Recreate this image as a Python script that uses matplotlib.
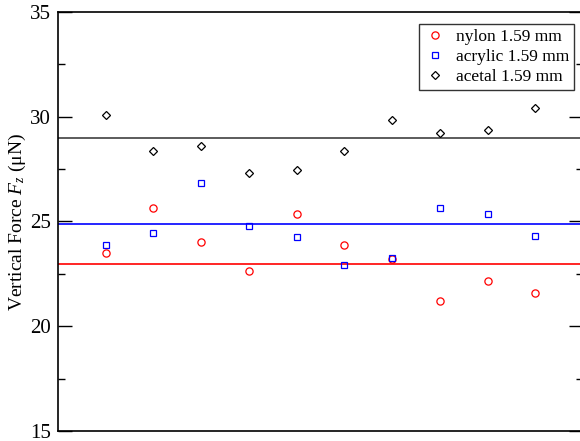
import matplotlib
matplotlib.use("Agg")
import matplotlib.pyplot as plt
import numpy as np

plt.rcParams['font.family'] = ['Liberation Serif', 'DejaVu Serif']
plt.rcParams['mathtext.fontset'] = 'custom'
plt.rcParams['mathtext.rm'] = 'Liberation Serif'
plt.rcParams['mathtext.it'] = 'Liberation Serif:italic'

# Trial index and measured vertical forces (µN)
trials = np.arange(1, 11)
nylon = [23.51, 25.64, 24.04, 22.64, 25.34, 23.86, 23.20, 21.20, 22.17, 21.59]
acrylic = [23.89, 24.44, 26.84, 24.77, 24.28, 22.94, 23.26, 25.66, 25.36, 24.32]
acetal = [30.10, 28.37, 28.62, 27.30, 27.44, 28.37, 29.86, 29.22, 29.35, 30.43]

# Reference levels for each material
nylon_ref = 22.97
acrylic_ref = 24.87
acetal_ref = 29.0

labels = ['nylon 1.59 mm', 'acrylic 1.59 mm', 'acetal 1.59 mm']

fig = plt.figure(figsize=(5.80, 4.41), dpi=100)
ax = fig.add_axes([58 / 580, 10 / 441, 525 / 580, 419 / 441])

ax.axhline(acetal_ref, color='#404040', lw=1.2, zorder=1)
ax.axhline(acrylic_ref, color='blue', lw=1.2, zorder=1)
ax.axhline(nylon_ref, color='red', lw=1.2, zorder=1)

ax.plot(trials, nylon, 'o', ms=5.2, mfc='none', mec='red', mew=0.9, label=labels[0])
ax.plot(trials, acrylic, 's', ms=4.6, mfc='none', mec='blue', mew=0.9, label=labels[1])
ax.plot(trials, acetal, 'D', ms=4.0, mfc='none', mec='black', mew=0.9, label=labels[2])

ax.set_xlim(0, 11)
ax.set_ylim(15, 35)
ax.set_xticks([])
ax.set_yticks([15, 20, 25, 30, 35])
ax.set_yticks([17.5, 22.5, 27.5, 32.5], minor=True)
ax.tick_params(axis='y', which='major', direction='in', length=10, width=1,
               labelsize=15, right=True, pad=5)
ax.tick_params(axis='y', which='minor', direction='in', length=5, width=1, right=True)
for s in ax.spines.values():
    s.set_linewidth(1.2)

ax.set_ylabel(r'Vertical Force $F_z$ ($\mathrm{\mu}$N)', fontsize=14)
ax.yaxis.set_label_coords((28 - 58) / 525, 0.5)

leg = ax.legend(loc='upper right', bbox_to_anchor=((574 - 58) / 525, (441 - 24 - 10) / 419),
                fontsize=12.5, frameon=True, fancybox=False, edgecolor='black',
                handletextpad=0.6, handlelength=1.2, borderpad=0.3, labelspacing=0.2,
                borderaxespad=0)
leg.get_frame().set_linewidth(1.0)

fig.savefig('out.png', dpi=100)
